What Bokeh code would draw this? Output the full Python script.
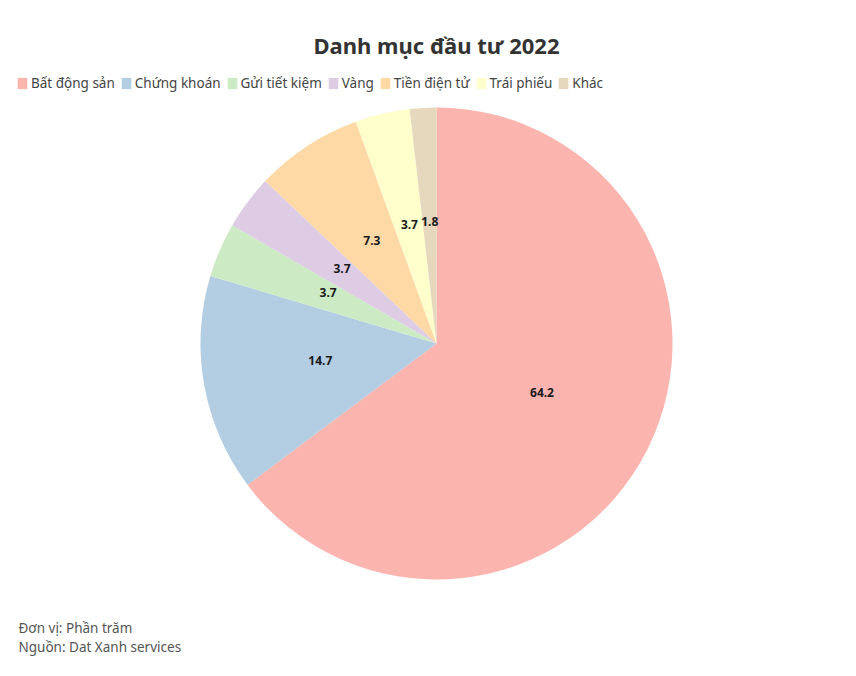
import numpy as np
from bokeh.plotting import figure
from bokeh.models import ColumnDataSource, Range1d, Label, Legend
from bokeh.core.properties import value
from bokeh.embed import file_html
from bokeh.resources import INLINE

categories = ["Bất động sản", "Chứng khoán", "Gửi tiết kiệm", "Vàng",
              "Tiền điện tử", "Trái phiếu", "Khác"]
values = [64.2, 14.7, 3.7, 3.7, 7.3, 3.7, 1.8]
colors = ["#fbb4ae", "#b3cde3", "#ccebc5", "#decbe4", "#fed9a6", "#ffffcc", "#e5d8bd"]
title_text = "Danh mục đầu tư 2022"
footer_lines = ["Đơn vị: Phần trăm", "Nguồn: Dat Xanh services"]

FONT = "Noto Sans"
W, H = 840, 660
R = 236

vals = np.array(values, dtype=float)
frac = vals / vals.sum()
cum = np.concatenate([[0.0], np.cumsum(frac)])
start = np.pi / 2 - 2 * np.pi * cum[:-1]
end = np.pi / 2 - 2 * np.pi * cum[1:]
mid = (start + end) / 2
lab_r = 0.5 * R

src = ColumnDataSource(dict(
    cat=categories, val=values, color=colors,
    start=start, end=end,
    lx=lab_r * np.cos(mid), ly=lab_r * np.sin(mid),
    txt=[f"{v:.1f}" for v in values],
))

p = figure(width=W, height=H, output_backend="svg", toolbar_location=None,
           x_range=Range1d(-436, 404), y_range=Range1d(-317, 343),
           min_border=0, outline_line_color=None)
p.axis.visible = False
p.grid.visible = False
p.background_fill_color = "white"
p.border_fill_color = "white"

p.wedge(x=0, y=0, radius=R, start_angle="start", end_angle="end",
        direction="clock", fill_color="color", line_color=None,
        source=src, legend_field="cat")

p.text(x="lx", y="ly", text="txt", source=src, text_align="center",
       text_baseline="middle", text_font=value(FONT), text_font_style="bold",
       text_font_size="12px", text_color="#1a1a1a", y_offset=-4)

leg = p.legend[0]
leg.orientation = "horizontal"
leg.location = (16, 568)
leg.label_text_font = FONT
leg.label_text_font_size = "13.5px"
leg.label_text_color = "#444444"
leg.glyph_width = 12
leg.glyph_height = 14
leg.label_standoff = 3
leg.spacing = 5
leg.padding = 0
leg.margin = 0
leg.border_line_color = None
leg.background_fill_alpha = 0

p.add_layout(Label(x=436, y=H - 44, x_units="screen", y_units="screen",
                   text=title_text, text_align="center", text_baseline="middle",
                   text_font=FONT, text_font_style="bold", text_font_size="22px",
                   text_color="#333333"))
for i, line in enumerate(footer_lines):
    p.add_layout(Label(x=18, y=H - 627 - 19 * i, x_units="screen", y_units="screen",
                       text=line, text_align="left", text_baseline="middle",
                       text_font=FONT, text_font_size="13.5px", text_color="#555555"))

open("out.html", "w").write(file_html(p, INLINE))
